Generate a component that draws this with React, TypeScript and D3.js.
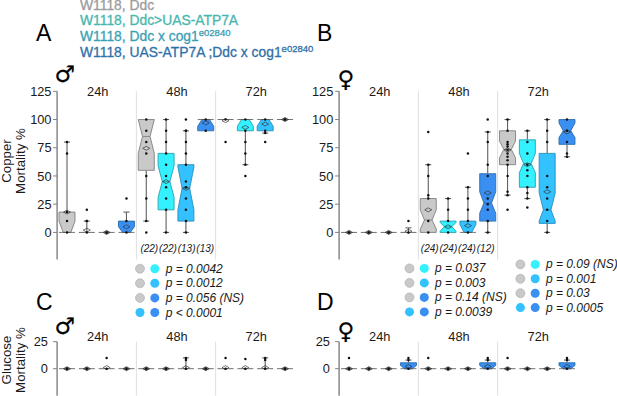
import React from "react";
import * as d3 from "d3";

type Box = { q1: number; nlo: number; med: number; nhi: number; q3: number; lo: number; hi: number; mean: number; pts: number[] };
const b = (q1: number, nlo: number, med: number, nhi: number, q3: number, lo: number, hi: number, mean: number, pts: number[]): Box => ({ q1, nlo, med, nhi, q3, lo, hi, mean, pts });
const flat = (v: number, mean: number, pts: number[], hi = v): Box => b(v, v, v, v, v, v, hi, mean, pts);

// Copper, male
const copperMale24h = [
  b(0, 0, 0, 10, 18, 0, 80, 18, [80, 70, 18, 10, 0]),
  flat(0, 2, [20, 10, 10, 0], 10),
  flat(0, 0, [0]),
  b(0, 0, 0, 5, 10, 0, 18, 5, [30, 10, 0]),
];
const copperMale48h = [
  b(55, 70, 85, 100, 100, 10, 100, 74.5, [100, 90, 80, 70, 50, 30, 10, 0]),
  b(20, 31, 45, 59, 70, 0, 100, 45, [100, 90, 80, 70, 60, 50, 40, 30, 20, 0]),
  b(10, 20, 39, 58, 60, 0, 90, 39, [100, 90, 90, 80, 70, 60, 45, 40, 30, 20, 10, 0]),
  b(90, 94, 100, 100, 100, 90, 100, 97, [100, 90]),
];
const copperMale72h = [
  flat(100, 99, [100, 80]),
  b(90, 94, 100, 100, 100, 60, 100, 93, [100, 90, 80, 70, 60, 50]),
  b(90, 94, 100, 100, 100, 88, 100, 96, [100, 90, 88, 80]),
  flat(100, 100, [100]),
];

// Copper, female
const copperFemale24h = [
  flat(0, 0, [0]),
  flat(0, 0, [0]),
  flat(0, 0, [0]),
  flat(0, 1, [10, 0], 4),
];
const copperFemale48h = [
  b(0, 3, 11, 20, 30, 0, 60, 20, [89, 60, 50, 33, 30, 10, 0]),
  b(0, 1, 5, 9, 10, 0, 30, 5, [30, 20, 10, 0]),
  b(0, 0, 0, 7, 10, 0, 40, 6, [70, 40, 30, 20, 10, 0]),
  b(10, 17, 26, 36, 52, 0, 89, 35, [100, 89, 80, 60, 50, 30, 25, 20, 10, 0]),
];
const copperFemale72h = [
  b(60, 66, 73.5, 81, 90, 33, 100, 73, [100, 90, 80, 78, 76, 73, 70, 67, 64, 60, 50, 36, 33, 20]),
  b(40, 53, 61, 70, 82, 30, 90, 60, [90, 80, 70, 60, 55, 50, 40, 35, 30, 22]),
  b(8, 10, 20, 35, 70, 0, 100, 36, [100, 90, 80, 50, 40, 30, 20, 10, 0]),
  b(78, 84, 90, 97, 100, 67, 100, 89, [100, 90, 80, 70, 67]),
];

// Glucose, male
const glucoseMale24h = [flat(0, 0, [0]), flat(0, 0, [0]), flat(0, 1, [10, 0]), flat(0, 0, [0])];
const glucoseMale48h = [flat(0, 0, [0]), flat(0, 0, [0]), flat(0, 1, [10, 8, 0], 10), flat(0, 0, [0])];
const glucoseMale72h = [flat(0, 1, [10, 0]), flat(0, 1, [9, 0]), flat(0, 1, [10, 8, 0], 10), flat(0, 0, [0])];

// Glucose, female
const glucoseFemaleFirst = flat(0, 0, [10, 0]);
const glucoseFemaleLast = b(0, 0, 0, 3, 5.5, 0, 8, 2, [10, 8, 0]);
const glucoseFemale24h = [glucoseFemaleFirst, flat(0, 0, [0]), flat(0, 0, [0]), glucoseFemaleLast];
const glucoseFemale48h = [glucoseFemaleFirst, flat(0, 0, [0]), flat(0, 0, [0]), glucoseFemaleLast];
const glucoseFemale72h = [glucoseFemaleFirst, flat(0, 0, [0]), flat(0, 0, [0]), glucoseFemaleLast];

const timeLabels = ["24h", "48h", "72h"];
const genotypeFills = ["#c9c9c9", "#33f1ff", "#33c1ff", "#3a8ff2"];
const genotypeStrokes = ["#808080", "#2a9fb0", "#2a8db5", "#2b6ea8"];
const legendLines = ["W1118, Ddc", "W1118, Ddc>UAS-ATP7A", "W1118, Ddc x cog1", "W1118, UAS-ATP7A ;Ddc x cog1"];
const legendColors = ["#9c9c9c", "#46b7ae", "#3a9fb3", "#2f70a9"];
const legendSuper = ["", "", "e02840", "e02840"];
const nMale = ["(22)", "(22)", "(13)", "(13)"];
const nFemale = ["(24)", "(24)", "(24)", "(12)"];
const copperTicks = [0, 25, 50, 75, 100, 125];
const glucoseTicks = [0, 25];

type PRow = { a: number; c: number; t: string };
const pMale: PRow[] = [
  { a: 0, c: 1, t: "p = 0.0042" }, { a: 0, c: 2, t: "p = 0.0012" }, { a: 0, c: 3, t: "p = 0.056 (NS)" }, { a: 2, c: 3, t: "p < 0.0001" },
];
const pFemaleLeft: PRow[] = [
  { a: 0, c: 1, t: "p = 0.037" }, { a: 0, c: 2, t: "p = 0.003" }, { a: 0, c: 3, t: "p = 0.14 (NS)" }, { a: 2, c: 3, t: "p = 0.0039" },
];
const pFemaleRight: PRow[] = [
  { a: 0, c: 1, t: "p = 0.09 (NS)" }, { a: 0, c: 2, t: "p = 0.001" }, { a: 0, c: 3, t: "p = 0.03" }, { a: 2, c: 3, t: "p = 0.0005" },
];

const FONT = "'Liberation Sans', Arial, sans-serif";
const W = 617, H = 396;

const copperY = d3.scaleLinear().domain([-24, 125]).range([259.5, 91.3]);
const glucoseY = d3.scaleLinear().domain([-25, 25]).range([395.7, 341.7]);
const line = d3.line<[number, number]>();

function BoxMark({ d, cx, y, color }: { d: Box; cx: number; y: d3.ScaleLinear<number, number>; color: number }) {
  const hw = 8, inset = 4.2, cap = 3;
  const x0 = cx - hw, x1 = cx + hw, m0 = cx - hw + inset, m1 = cx + hw - inset;
  const collapsed = d.q1 === d.q3;
  const left: [number, number][] = [];
  const right: [number, number][] = [];
  const add = (xl: number, xr: number, v: number) => { left.push([xl, y(v)]); right.unshift([xr, y(v)]); };
  if (d.med > d.q1) add(x0, x1, d.q1);
  if (d.nlo > d.q1 && d.nlo < d.med) add(x0, x1, d.nlo);
  add(m0, m1, d.med);
  if (d.nhi > d.med && d.nhi < d.q3) add(x0, x1, d.nhi);
  if (d.q3 > d.med) add(x0, x1, d.q3);
  const outline = line([...left, ...right]) + "Z";
  const stroke = genotypeStrokes[color];
  const solid = collapsed && Math.abs(d.mean - d.med) < 0.5;
  return (
    <g>
      {(d.hi > d.q3 || d.lo < d.q1) && (
        <g stroke="#606060" strokeWidth={1.1}>
          <line x1={cx} x2={cx} y1={y(d.hi)} y2={y(d.q3)} />
          <line x1={cx} x2={cx} y1={y(d.q1)} y2={y(d.lo)} />
          {d.hi > d.q3 && <line x1={cx - cap} x2={cx + cap} y1={y(d.hi)} y2={y(d.hi)} />}
          {d.lo < d.q1 && <line x1={cx - cap} x2={cx + cap} y1={y(d.lo)} y2={y(d.lo)} />}
        </g>
      )}
      {collapsed ? (
        <line x1={x0} x2={x1} y1={y(d.med)} y2={y(d.med)} stroke="#707070" strokeWidth={1} />
      ) : (
        <g>
          <path d={outline} fill={genotypeFills[color]} stroke={stroke} strokeWidth={0.9} />
          <line x1={m0} x2={m1} y1={y(d.med)} y2={y(d.med)} stroke={stroke} strokeWidth={0.9} />
          {d.q3 === d.med && <line x1={x0} x2={x1} y1={y(d.q3)} y2={y(d.q3)} stroke="#555" strokeWidth={0.8} />}
          {d.q1 === d.med && <line x1={x0} x2={x1} y1={y(d.q1)} y2={y(d.q1)} stroke="#555" strokeWidth={0.8} />}
        </g>
      )}
      <path
        d={line([[cx - 3.5, y(d.mean)], [cx, y(d.mean) - 2], [cx + 3.5, y(d.mean)], [cx, y(d.mean) + 2]]) + "Z"}
        fill={solid ? "#666" : "none"}
        stroke="#333"
        strokeWidth={0.7}
      />
      {d.pts.map((v, i) => (
        <circle key={i} cx={cx} cy={y(v)} r={1.25} fill="#111" />
      ))}
    </g>
  );
}

function Panel({ groups, axisX, y, ticks, labelGap, timeY, n, nStart, nY }: {
  groups: Box[][]; axisX: number; y: d3.ScaleLinear<number, number>; ticks: number[]; labelGap: number; timeY: number; n?: string[]; nStart?: number; nY?: number;
}) {
  const keys = d3.range(12).map(String);
  const x = d3.scaleBand().domain(keys).range([axisX, axisX + 237.8]);
  const [yBottom, yTop] = y.range();
  const centers = (i: number) => (x(String(i))! + x.bandwidth() / 2);
  return (
    <g fontFamily={FONT}>
      {[4, 8].map((i) => (
        <line key={i} x1={x(String(i))} x2={x(String(i))} y1={yTop} y2={yBottom} stroke="#dedede" strokeWidth={1} />
      ))}
      <line x1={axisX} x2={axisX} y1={yTop} y2={yBottom} stroke="#808080" strokeWidth={1.4} />
      {ticks.map((t) => (
        <g key={t}>
          <line x1={axisX - 4} x2={axisX} y1={y(t)} y2={y(t)} stroke="#808080" strokeWidth={1} />
          <text x={axisX - labelGap} y={y(t) + 4.6} textAnchor="end" fontSize={12.8} fill="#1a1a1a">{t}</text>
        </g>
      ))}
      {timeLabels.map((t, i) => (
        <text key={t} x={centers(4 * i + 1) + x.bandwidth() / 2 + 1} y={timeY} textAnchor="middle" fontSize={12.8} fill="#1a1a1a">{t}</text>
      ))}
      {groups.flat().map((d, i) => (
        <BoxMark key={i} d={d} cx={centers(i)} y={y} color={i % 4} />
      ))}
      {n && nY && n.map((t, i) => (
        <text key={i} x={nStart! + 18.65 * i} y={nY} textAnchor="middle" fontSize={10} fontStyle="italic" fill="#1a1a1a">{t}</text>
      ))}
    </g>
  );
}

function PTable({ rows, x0, y0, step, textX }: { rows: PRow[]; x0: number; y0: number; step: number; textX: number }) {
  const rowY = d3.scalePoint<number>().domain(d3.range(4)).range([y0, y0 + 3 * step]);
  return (
    <g fontFamily={FONT}>
      {rows.map((r, i) => {
        const cy = rowY(i)!;
        return (
          <g key={i}>
            <circle cx={x0} cy={cy} r={4.5} fill={genotypeFills[r.a]} stroke={r.a === 0 ? "#aaa" : "none"} strokeWidth={0.6} />
            <circle cx={x0 + 14.8} cy={cy} r={4.5} fill={genotypeFills[r.c]} />
            <text x={textX} y={cy + 4} fontSize={12} fontStyle="italic" fill="#1a1a1a">{r.t}</text>
          </g>
        );
      })}
    </g>
  );
}

function Sym({ c, x, y, size }: { c: string; x: number; y: number; size: number }) {
  return <text x={x} y={y} fontFamily="'DejaVu Sans'" fontSize={size} fill="#000" stroke="#000" strokeWidth={0.2}>{c}</text>;
}

export default function App() {
  return (
    <svg width={W} height={H} viewBox={`0 0 ${W} ${H}`} style={{ position: "absolute", left: 0, top: 0, background: "#fff" }}>
      <g fontFamily={FONT} fontSize={13.85}>
        {legendLines.map((t, i) => (
          <text key={i} x={80} y={[10, 25, 41, 56.5][i]} fill={legendColors[i]} stroke={legendColors[i]} strokeWidth={0.3}>
            {t}
            {legendSuper[i] && <tspan dy={-5} fontSize={9.5}>{legendSuper[i]}</tspan>}
          </text>
        ))}
      </g>
      <g fontFamily={FONT} fontSize={23} fill="#000">
        <text x={36} y={41}>A</text>
        <text x={317} y={41}>B</text>
        <text x={36} y={310}>C</text>
        <text x={317} y={310}>D</text>
      </g>
      <Sym c="♂" x={54.5} y={82} size={23} />
      <Sym c="♀" x={337.5} y={87} size={23} />
      <Sym c="♂" x={54.5} y={334} size={23} />
      <Sym c="♀" x={337.5} y={339} size={23} />

      <g fontFamily={FONT} fontSize={13.3} fill="#1a1a1a">
        <text transform="translate(11,161) rotate(-90)" textAnchor="middle">Copper</text>
        <text transform="translate(24.5,161) rotate(-90)" textAnchor="middle">Mortality %</text>
        <text transform="translate(11,360) rotate(-90)" textAnchor="middle">Glucose</text>
        <text transform="translate(24.5,360) rotate(-90)" textAnchor="middle">Mortality %</text>
      </g>

      <Panel groups={[copperMale24h, copperMale48h, copperMale72h]} axisX={57.1} y={copperY} ticks={copperTicks} labelGap={5.6} timeY={95.7} n={nMale} nStart={149.3} nY={251.5} />
      <Panel groups={[copperFemale24h, copperFemale48h, copperFemale72h]} axisX={339.1} y={copperY} ticks={copperTicks} labelGap={5.8} timeY={95.7} n={nFemale} nStart={429.7} nY={251.5} />
      <Panel groups={[glucoseMale24h, glucoseMale48h, glucoseMale72h]} axisX={57.1} y={glucoseY} ticks={glucoseTicks} labelGap={9.2} timeY={341} />
      <Panel groups={[glucoseFemale24h, glucoseFemale48h, glucoseFemale72h]} axisX={339.1} y={glucoseY} ticks={glucoseTicks} labelGap={9.2} timeY={341} />

      <PTable rows={pMale} x0={140} y0={268.7} step={14.6} textX={165.7} />
      <PTable rows={pFemaleLeft} x0={409.5} y0={268.4} step={14.5} textX={435} />
      <PTable rows={pFemaleRight} x0={520.4} y0={264.4} step={14.4} textX={546} />
    </svg>
  );
}
